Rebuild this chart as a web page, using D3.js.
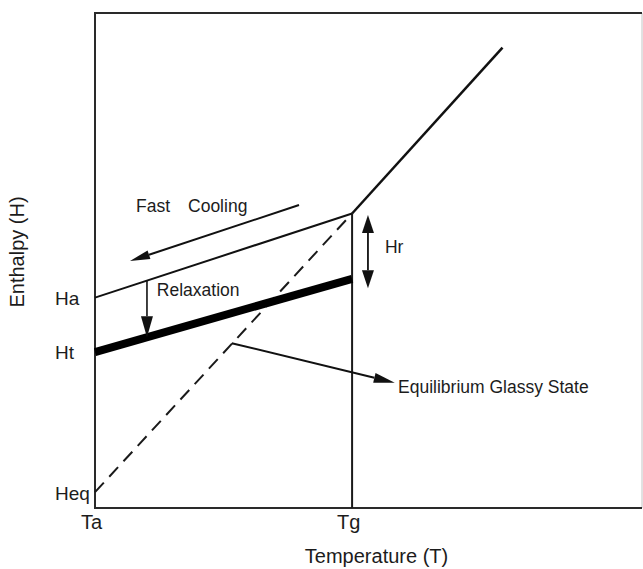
<!DOCTYPE html>
<html>
<head>
<meta charset="utf-8">
<script src="https://cdn.jsdelivr.net/npm/d3@7"></script>
<style>
  html, body { margin: 0; padding: 0; background: #fff; }
  svg { display: block; }
  text { font-family: "Liberation Sans", Arial, Helvetica, sans-serif; fill: #1c1c1c; }
</style>
</head>
<body>
<svg id="chart" width="643" height="569"></svg>
<script>
// Enthalpy–temperature schematic of glass formation and physical ageing.
// Temperature ticks (arbitrary units) and their labels
const tTicks = [0, 47];
const tLabels = ["Ta", "Tg"];
// Enthalpy ticks (arbitrary units) and their labels
const hTicks = [3.2, 31.5, 42.5];
const hLabels = ["Heq", "Ht", "Ha"];

// Curves as [T, H] pairs
const glassLine = [[0, 42.5], [47, 59.5]];        // fast-cooled glass
const liquidLine = [[47, 59.5], [74.5, 93]];      // equilibrium liquid above Tg
const agedLine = [[0, 31.5], [47, 46.3]];         // relaxed glass after ageing
const equilibriumLine = [[0, 3.2], [47, 59.5]];   // extrapolated equilibrium
const tgLine = [[47, 0], [47, 59.5]];             // Tg drop line

// Annotation arrows as [from, to]
const fastCoolingArrow = [[37.3, 61.2], [6.4, 49.9]];
const relaxationArrow = [[9.5, 45.9], [9.5, 34.5]];
const hrArrow = [[49.9, 59.2], [49.9, 44.4]];
const equilibriumArrow = [[25, 33.3], [54.8, 25.3]];

const svg = d3.select("#chart");
const margin = { left: 95, right: 1, top: 13, bottom: 61 };
const W = 643, H = 569;

const x = d3.scaleLinear().domain([0, 100]).range([margin.left, W - margin.right]);
const y = d3.scaleLinear().domain([0, 100]).range([H - margin.bottom, margin.top]);

const line = d3.line().x(d => x(d[0])).y(d => y(d[1]));

// Frame
svg.append("line").attr("x1", x(100)).attr("x2", x(100)).attr("y1", y(100)).attr("y2", y(0))
  .attr("stroke", "#c4c4c4").attr("stroke-width", 1);
svg.append("path")
  .attr("d", `M${x(100)},${y(100)}H${x(0)}V${y(0)}H${x(100)}`)
  .attr("fill", "none").attr("stroke", "#2a2a2a").attr("stroke-width", 2);

// Axes: labels only, ticks hidden
const xAxis = svg.append("g")
  .attr("transform", `translate(0,${y(0)})`)
  .call(d3.axisBottom(x).tickValues(tTicks).tickSize(0).tickPadding(7)
    .tickFormat((d, i) => tLabels[i]));
xAxis.select(".domain").remove();
xAxis.selectAll("text").attr("font-size", 20).attr("dx", -4)
  .style("font-family", "'Liberation Sans', Arial, sans-serif").attr("fill", "#1c1c1c");

const yAxis = svg.append("g")
  .attr("transform", `translate(${x(0)},0)`)
  .call(d3.axisLeft(y).tickValues(hTicks).tickSize(0)
    .tickFormat((d, i) => hLabels[i]));
yAxis.select(".domain").remove();
yAxis.selectAll("text").attr("font-size", 19).attr("text-anchor", "start").attr("x", -40)
  .attr("dy", "0.36em")
  .style("font-family", "'Liberation Sans', Arial, sans-serif").attr("fill", "#1c1c1c");

// Axis titles
svg.append("text")
  .attr("x", (x(0) + x(100)) / 2 + 8).attr("y", 563)
  .attr("text-anchor", "middle").attr("font-size", 20)
  .text("Temperature (T)");
svg.append("text")
  .attr("transform", `translate(24,${252}) rotate(-90)`)
  .attr("text-anchor", "middle").attr("font-size", 20)
  .text("Enthalpy (H)");

// Curves
svg.append("path").attr("d", line(equilibriumLine)).attr("fill", "none")
  .attr("stroke", "#1a1a1a").attr("stroke-width", 2).attr("stroke-dasharray", "13,8");
svg.append("path").attr("d", line(tgLine)).attr("fill", "none")
  .attr("stroke", "#1a1a1a").attr("stroke-width", 2);
svg.append("path").attr("d", line(glassLine)).attr("fill", "none")
  .attr("stroke", "#111").attr("stroke-width", 2);
svg.append("path").attr("d", line(liquidLine)).attr("fill", "none")
  .attr("stroke", "#111").attr("stroke-width", 2.5);
svg.append("path").attr("d", line(agedLine)).attr("fill", "none")
  .attr("stroke", "#000").attr("stroke-width", 8);

// Arrow helper: shaft plus filled triangular head at the end point
function head(p, q, len, wid) {
  const dx = q[0] - p[0], dy = q[1] - p[1];
  const L = Math.hypot(dx, dy);
  const ux = dx / L, uy = dy / L;
  const bx = q[0] - ux * len, by = q[1] - uy * len;
  const nx = -uy * wid / 2, ny = ux * wid / 2;
  return { base: [bx, by], pts: [[q[0], q[1]], [bx + nx, by + ny], [bx - nx, by - ny]] };
}
function arrow(seg, opts) {
  const a = [x(seg[0][0]), y(seg[0][1])];
  const b = [x(seg[1][0]), y(seg[1][1])];
  const len = opts.len, wid = opts.wid;
  let start = a, end = b;
  const hb = head(a, b, len, wid);
  end = hb.base;
  let ha = null;
  if (opts.both) { ha = head(b, a, len, wid); start = ha.base; }
  svg.append("line").attr("x1", start[0]).attr("y1", start[1]).attr("x2", end[0]).attr("y2", end[1])
    .attr("stroke", "#111").attr("stroke-width", opts.sw);
  svg.append("polygon").attr("points", hb.pts.map(p => p.join(",")).join(" ")).attr("fill", "#111");
  if (ha) svg.append("polygon").attr("points", ha.pts.map(p => p.join(",")).join(" ")).attr("fill", "#111");
}
arrow(fastCoolingArrow, { len: 20, wid: 9, sw: 2 });
arrow(relaxationArrow, { len: 21, wid: 12, sw: 1.6 });
arrow(hrArrow, { len: 18, wid: 12, sw: 1.8, both: true });
arrow(equilibriumArrow, { len: 21, wid: 10, sw: 2 });

// Annotation text
const note = (t, h, s) => svg.append("text").attr("x", x(t)).attr("y", y(h))
  .attr("font-size", 17.5).text(s);
note(7.5, 59.8, "Fast");
svg.append("text").attr("x", x(7.5) + 52).attr("y", y(59.8)).attr("font-size", 17.5).text("Cooling");
note(11.3, 42.8, "Relaxation");
note(53, 51.5, "Hr");
note(55.4, 23.2, "Equilibrium Glassy State");
</script>
</body>
</html>
